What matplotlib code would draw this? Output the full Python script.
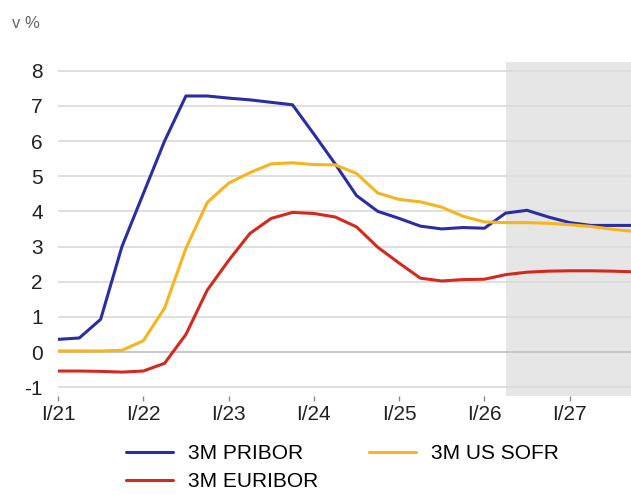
import numpy as np
import matplotlib.pyplot as plt

# ctvrtletni hodnoty Q1/21 .. Q4/27, v %
pribor = [0.36, 0.40, 0.93, 3.00, 4.50, 6.00, 7.28, 7.28,
          7.22, 7.17, 7.10, 7.03, 6.20, 5.35, 4.45, 4.00,
          3.80, 3.58, 3.50, 3.54, 3.52, 3.95, 4.03, 3.84,
          3.68, 3.60, 3.60, 3.60]
sofr = [0.03, 0.03, 0.03, 0.05, 0.32, 1.25, 2.95, 4.25,
        4.80, 5.10, 5.35, 5.38, 5.33, 5.32, 5.08, 4.52,
        4.34, 4.27, 4.12, 3.86, 3.70, 3.68, 3.68, 3.66,
        3.62, 3.57, 3.49, 3.43]
euribor = [-0.54, -0.54, -0.55, -0.57, -0.54, -0.32, 0.50, 1.76,
           2.60, 3.37, 3.80, 3.97, 3.94, 3.84, 3.56, 2.98,
           2.53, 2.10, 2.02, 2.06, 2.07, 2.20, 2.27, 2.30,
           2.31, 2.31, 2.30, 2.28]

roky = [2021, 2022, 2023, 2024, 2025, 2026, 2027]
popisky_x = ["I/21", "I/22", "I/23", "I/24", "I/25", "I/26", "I/27"]
prognoza_od = 2026.25

plt.rcParams['font.family'] = ['Liberation Sans', 'DejaVu Sans']
plt.rcParams['axes.unicode_minus'] = False

t = 2021 + 0.25 * np.arange(len(pribor))

fig = plt.figure(figsize=(6.31, 4.95), dpi=100)
ax = fig.add_axes([58 / 631, 0.2, 1 - 58 / 631, 0.675])

# prognoza - sede pozadi
ax.axvspan(prognoza_od, 2030, color="#e6e6e6", lw=0, zorder=0)
for y in range(-1, 9):
    ax.axhline(y, color="#c4c4c4" if y == 0 else "#dcdcdc", lw=1.3, zorder=1)

styl = dict(lw=2.2, zorder=3, solid_joinstyle="round", solid_capstyle="round")
ax.plot(t, pribor, color="#2b2ea3", label="3M PRIBOR", **styl)
ax.plot(t, euribor, color="#d42a1e", label="3M EURIBOR", **styl)
ax.plot(t, sofr, color="#f6b51e", label="3M US SOFR", **styl)

ax.set_xlim(2021, 2027.72)
ax.set_ylim(-1.25, 8.25)
ax.set_yticks(range(-1, 9))
ax.set_xticks(roky)
ax.set_xticklabels(popisky_x)
for s in ax.spines.values():
    s.set_visible(False)
ax.tick_params(axis="y", length=0, pad=11, labelsize=15, labelcolor="#222222")
ax.tick_params(axis="x", length=3.5, width=1, color="#888888", pad=3,
               labelsize=15, labelcolor="#222222")

fig.text(12 / 631, 1 - 23 / 495, "v %", fontsize=12, color="#666666", va="center")

fig.legend(loc="upper left", bbox_to_anchor=(126 / 631, 1 - 444 / 495), ncol=2,
           frameon=False, fontsize=15, handlelength=2.25, handletextpad=0.75,
           columnspacing=2.4, labelspacing=0.45, borderpad=0, borderaxespad=0)

fig.savefig("out.png", dpi=100)
